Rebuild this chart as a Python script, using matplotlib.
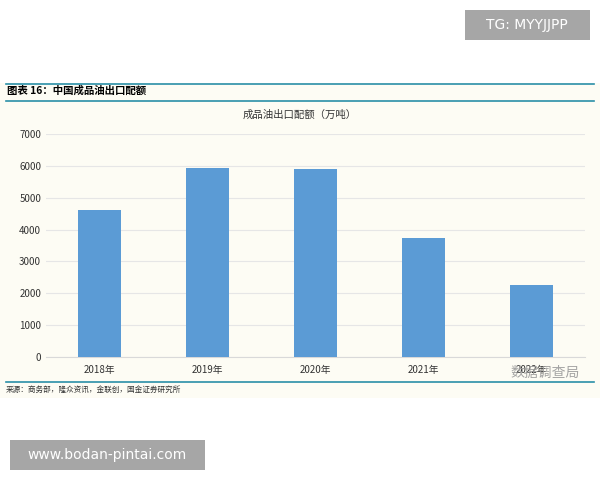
import matplotlib
matplotlib.use("Agg")
import matplotlib.pyplot as plt
from matplotlib.patches import Rectangle

plt.rcParams['font.family'] = ['Noto Sans CJK SC', 'DejaVu Sans']

categories = ["2018年", "2019年", "2020年", "2021年", "2022年"]
values = [4600, 5920, 5900, 3750, 2250]
yticks = [0, 1000, 2000, 3000, 4000, 5000, 6000, 7000]

fig = plt.figure(figsize=(6, 4.8), dpi=100)
fig.patch.set_facecolor("white")
fig.add_artist(Rectangle((0, 1-398/480), 1, (398-83)/480, transform=fig.transFigure,
                         facecolor="#fdfcf4", edgecolor="none", zorder=0))
for y in (84, 101, 382):
    fig.add_artist(plt.Line2D([0.01, 0.99], [1-y/480]*2, transform=fig.transFigure,
                              color="#2a8fa8", lw=1.2))
fig.text(0.012, 1-91/480, "图表 16：中国成品油出口配额", fontsize=7.5, fontweight="bold",
         fontstyle="italic", va="center", ha="left")
fig.text(0.5, 1-115/480, "成品油出口配额（万吨）", fontsize=7.5, va="center", ha="center", color="#333333")
fig.text(0.01, 1-390/480, "来源：商务部，隆众资讯，金联创，国金证券研究所", fontsize=5.5, va="center", ha="left", color="#333333")

ax = fig.add_axes([46/600, 1-357/480, (585-46)/600, (357-134)/480])
ax.set_facecolor("#fdfcf4")
ax.bar(categories, values, width=0.4, color="#5b9bd5", zorder=3)
ax.set_ylim(0, 7000)
ax.set_yticks(yticks)
ax.grid(axis="y", color="#e6e6e6", lw=0.8, zorder=0)
for s in ax.spines.values():
    s.set_visible(False)
ax.spines["bottom"].set_visible(True)
ax.spines["bottom"].set_color("#d9d9d9")
ax.tick_params(length=0, labelsize=7, colors="#333333")
ax.tick_params(axis="x", pad=6)
ax.set_xlim(-0.5, 4.5)

fig.add_artist(Rectangle((465/600, 1-40/480), 125/600, 30/480, transform=fig.transFigure,
                         facecolor="#a6a6a6", edgecolor="none"))
fig.text(527/600, 1-25/480, "TG: MYYJJPP", color="white", fontsize=10, ha="center", va="center",
         family="DejaVu Sans")
fig.add_artist(Rectangle((10/600, 1-470/480), 195/600, 30/480, transform=fig.transFigure,
                         facecolor="#a6a6a6", edgecolor="none"))
fig.text(107/600, 1-455/480, "www.bodan-pintai.com", color="white", fontsize=10, ha="center", va="center",
         family="DejaVu Sans")
fig.text(545/600, 1-373/480, "数据调查局", color="#9a9a9a", fontsize=10, ha="center", va="center", alpha=0.9)

fig.savefig("out.png", dpi=100)
